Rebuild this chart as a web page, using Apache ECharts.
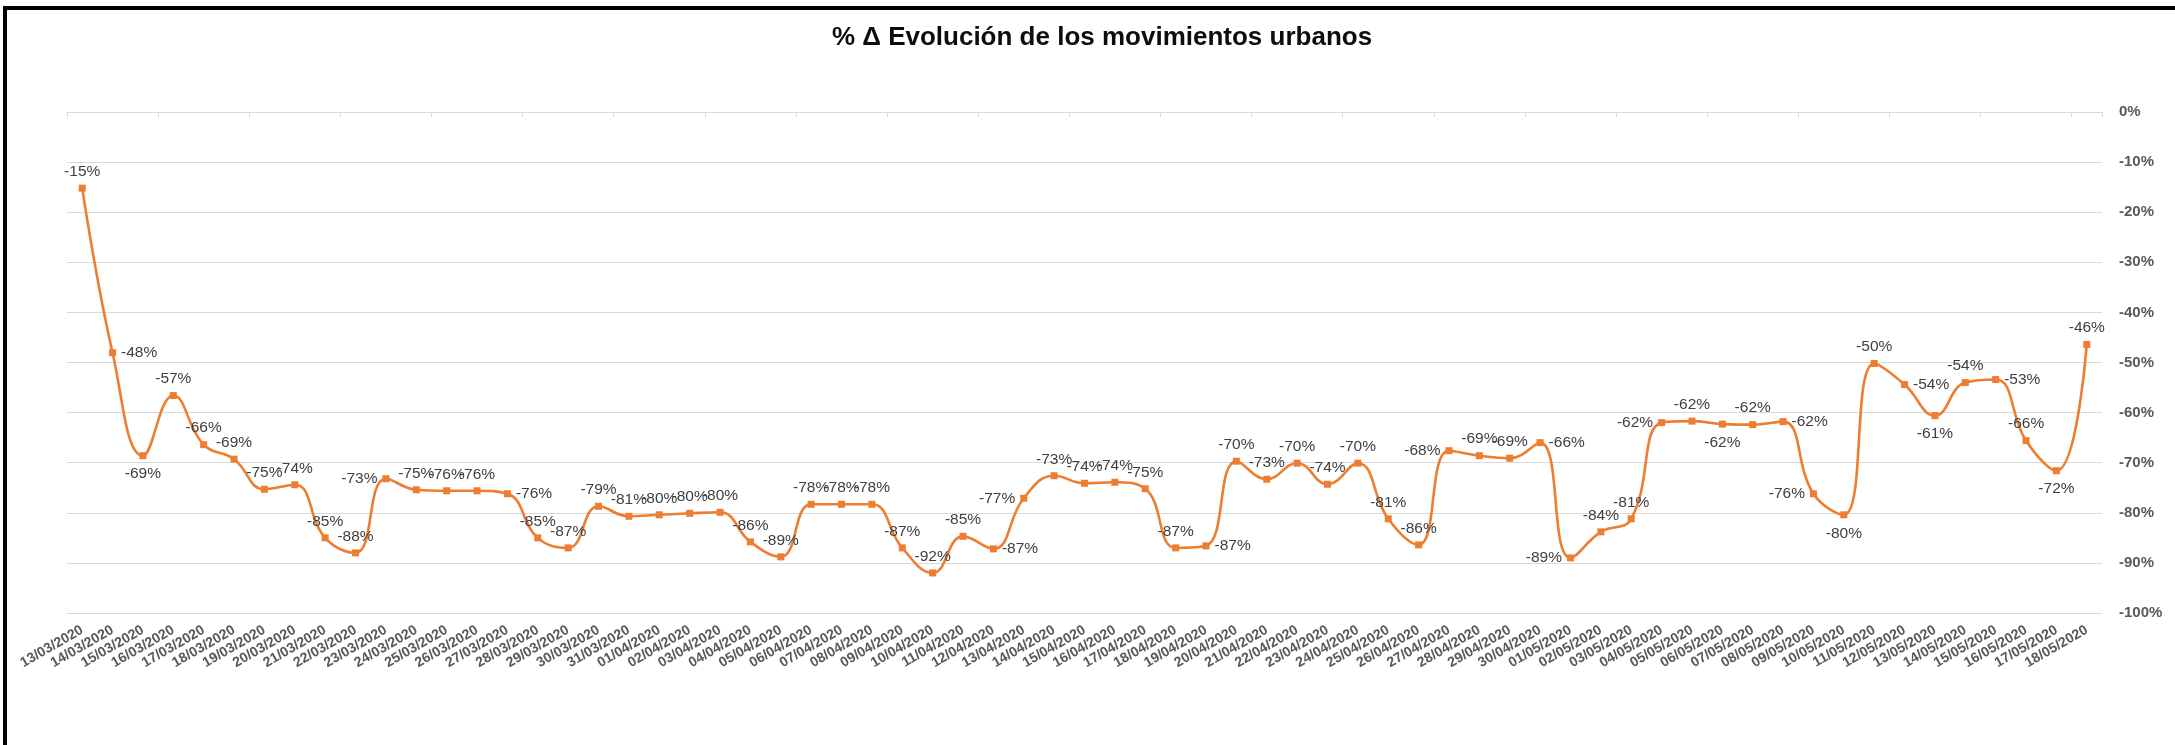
<!DOCTYPE html>
<html>
<head>
<meta charset="utf-8">
<script src="https://cdn.jsdelivr.net/npm/echarts@6/dist/echarts.min.js"></script>
<style>
  html, body { margin: 0; padding: 0; background: #fff; overflow: hidden; }
  #chart { position: absolute; left: 0; top: 0; width: 2175px; height: 745px; }
  #frame { position: absolute; left: 3px; top: 6px; width: 2400px; height: 900px;
           border-left: 4px solid #000; border-top: 4px solid #000; pointer-events: none; }
</style>
</head>
<body>
<div id="chart"></div>
<div id="frame"></div>
<script>
const titleText = '% Δ Evolución de los movimientos urbanos';

const categories = [
  '13/03/2020','14/03/2020','15/03/2020','16/03/2020','17/03/2020','18/03/2020','19/03/2020',
  '20/03/2020','21/03/2020','22/03/2020','23/03/2020','24/03/2020','25/03/2020','26/03/2020',
  '27/03/2020','28/03/2020','29/03/2020','30/03/2020','31/03/2020',
  '01/04/2020','02/04/2020','03/04/2020','04/04/2020','05/04/2020','06/04/2020','07/04/2020',
  '08/04/2020','09/04/2020','10/04/2020','11/04/2020','12/04/2020','13/04/2020','14/04/2020',
  '15/04/2020','16/04/2020','17/04/2020','18/04/2020','19/04/2020','20/04/2020','21/04/2020',
  '22/04/2020','23/04/2020','24/04/2020','25/04/2020','26/04/2020','27/04/2020','28/04/2020',
  '29/04/2020','30/04/2020',
  '01/05/2020','02/05/2020','03/05/2020','04/05/2020','05/05/2020','06/05/2020','07/05/2020',
  '08/05/2020','09/05/2020','10/05/2020','11/05/2020','12/05/2020','13/05/2020','14/05/2020',
  '15/05/2020','16/05/2020','17/05/2020','18/05/2020'
];

const valuesMarch = [-15.2, -48.05, -68.6, -56.6, -66.4, -69.3, -75.3, -74.4, -85.0, -88.0,
                     -73.2, -75.4, -75.6, -75.6, -76.2, -85.0, -87.0, -78.7, -80.7];
const valuesApril = [-80.4, -80.1, -79.9, -85.8, -88.8, -78.3, -78.3, -78.3, -87.0, -92.0,
                     -84.7, -87.2, -77.1, -72.6, -74.1, -73.9, -75.2, -87.0, -86.6, -69.7,
                     -73.3, -70.1, -74.3, -70.1, -81.2, -86.4, -67.6, -68.6, -69.1, -66.0];
const valuesMay   = [-89.0, -83.8, -81.2, -62.0, -61.7, -62.3, -62.4, -61.8, -76.2, -80.4,
                     -50.2, -54.4, -60.6, -54.0, -53.4, -65.6, -71.6, -46.4];

const yMin = -100, yMax = 0, yStep = 10;

// label placement overrides (index -> position), default 'top'
const labelPlacement = {
  1: 'right', 2: 'bottom', 10: 'left', 14: 'right', 30: 'right', 31: 'left', 37: 'right',
  45: 'left', 48: 'right', 49: 'left', 52: 'left', 54: 'bottom', 56: 'right', 57: 'left',
  58: 'bottom', 60: 'right', 61: 'bottom', 63: 'right', 65: 'bottom'
};

const values = valuesMarch.concat(valuesApril, valuesMay);
const FONT = "'Liberation Sans', Arial, sans-serif";

const seriesData = values.map((v, i) => {
  const pos = labelPlacement[i] || 'top';
  return {
    value: v,
    label: { position: pos, distance: pos === 'bottom' ? 7 : 5 }
  };
});

const chart = echarts.init(document.getElementById('chart'), null, { renderer: 'canvas' });
chart.setOption({
  backgroundColor: '#ffffff',
  animation: false,
  title: {
    text: titleText,
    left: 1097,
    textAlign: 'center',
    top: 20,
    textStyle: { fontFamily: FONT, fontSize: 26, fontWeight: 'bold', color: '#0d0d0d' }
  },
  grid: { left: 67, right: 73, top: 112, bottom: 132, containLabel: false },
  xAxis: [
    {
      type: 'category',
      data: categories,
      position: 'bottom',
      boundaryGap: true,
      axisLine: { show: false },
      axisTick: { show: false },
      axisLabel: {
        interval: 0,
        rotate: 30,
        margin: 16,
        fontFamily: FONT,
        fontSize: 14,
        fontWeight: 'bold',
        color: '#595959'
      },
      splitLine: { show: false }
    },
    {
      type: 'category',
      data: categories,
      position: 'top',
      boundaryGap: true,
      axisLine: { show: true, lineStyle: { color: '#d9d9d9', width: 1 } },
      axisTick: { show: true, inside: true, length: 5, lineStyle: { color: '#d9d9d9', width: 1 } },
      axisLabel: { show: false },
      splitLine: { show: false }
    }
  ],
  yAxis: {
    type: 'value',
    position: 'right',
    min: yMin,
    max: yMax,
    interval: yStep,
    axisLine: { show: false },
    axisTick: { show: false },
    axisLabel: {
      margin: 17,
      formatter: '{value}%',
      fontFamily: FONT,
      fontSize: 15,
      fontWeight: 'bold',
      color: '#595959'
    },
    splitLine: { show: true, lineStyle: { color: '#d9d9d9', width: 1.2 } }
  },
  series: [{
    type: 'line',
    xAxisIndex: 0,
    data: seriesData,
    smooth: 0.45,
    symbol: 'rect',
    symbolSize: 7,
    lineStyle: { color: '#ED7D31', width: 2.6 },
    itemStyle: { color: '#ED7D31' },
    label: {
      show: true,
      formatter: p => Math.round(p.value) + '%',
      fontFamily: FONT,
      fontSize: 15.5,
      color: '#404040'
    },
    z: 5
  }]
});
</script>
</body>
</html>
